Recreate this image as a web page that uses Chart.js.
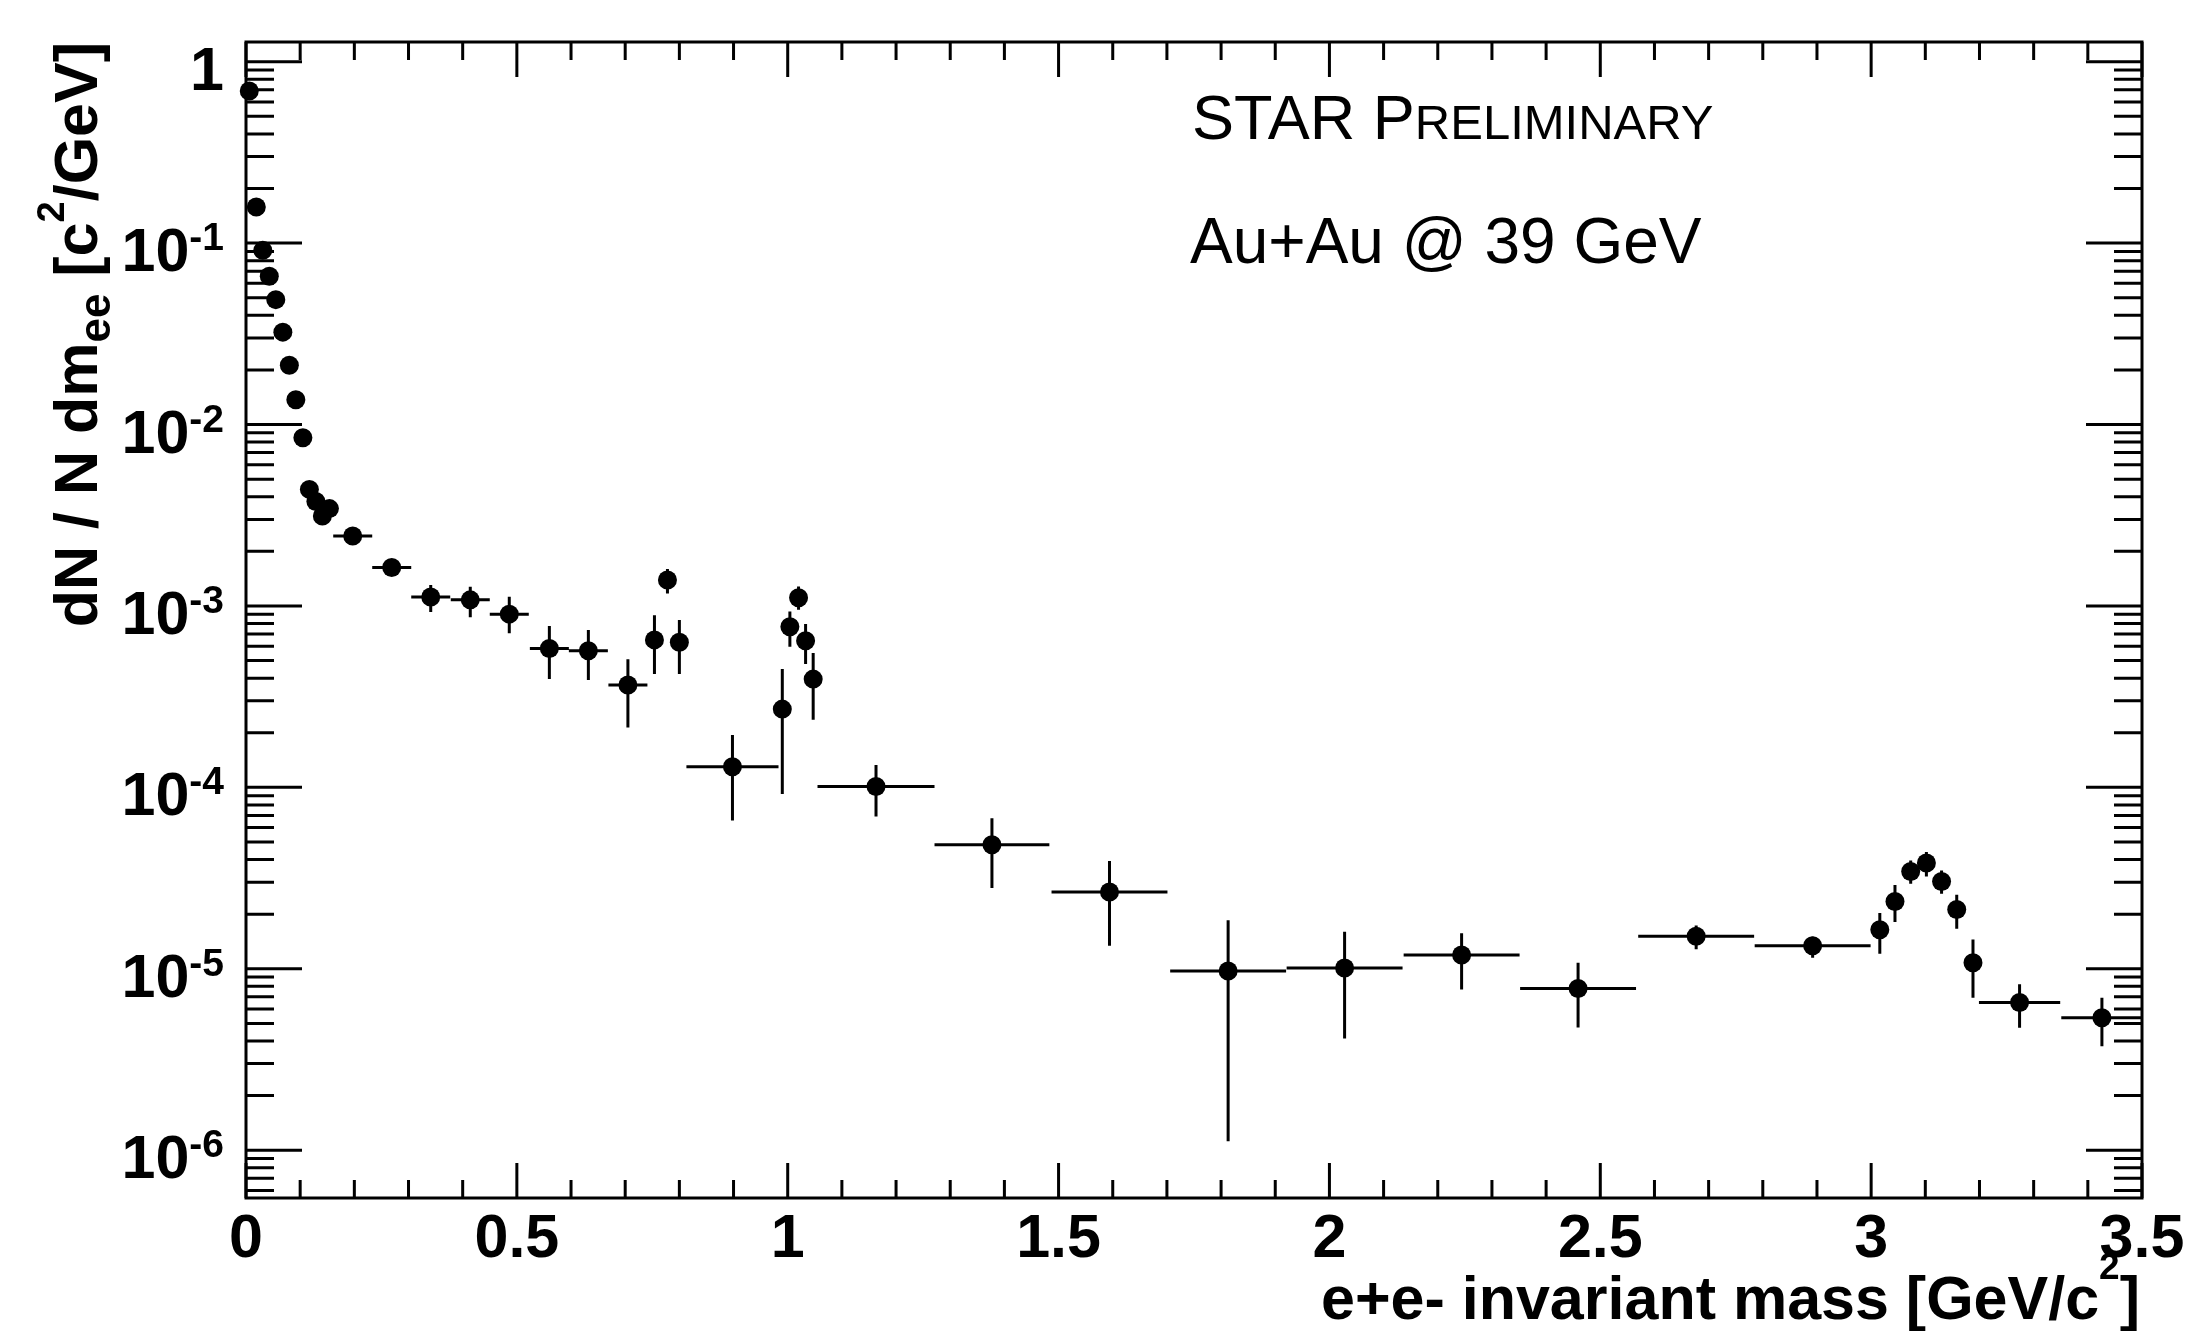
<!DOCTYPE html>
<html>
<head>
<meta charset="utf-8">
<script src="https://cdn.jsdelivr.net/npm/chart.js@4.4.0/dist/chart.umd.min.js"></script>
<style>
  html, body { margin: 0; padding: 0; background: #fff; }
  #wrap { width: 2196px; height: 1331px; }
</style>
</head>
<body>
<div id="wrap"><canvas id="massChart" width="2196" height="1331"></canvas></div>
<script>
// dielectron invariant mass spectrum
const mass = [0.006, 0.019, 0.031, 0.043, 0.055, 0.068, 0.080, 0.092, 0.105, 0.117, 0.129, 0.141, 0.154,
  0.197, 0.269, 0.341, 0.414, 0.486, 0.560, 0.632, 0.705,
  0.754, 0.778, 0.800, 0.898,
  0.990, 1.004, 1.020, 1.033, 1.047, 1.163,
  1.377, 1.594, 1.813, 2.028, 2.244, 2.459, 2.677, 2.892,
  3.016, 3.044, 3.073, 3.102, 3.130, 3.158, 3.188, 3.274, 3.426];

// half bin width
const massHalfWidth = [0.006, 0.006, 0.006, 0.006, 0.006, 0.006, 0.006, 0.006, 0.006, 0.006, 0.006, 0.006, 0.006,
  0.036, 0.036, 0.036, 0.036, 0.036, 0.036, 0.036, 0.036,
  0.010, 0.010, 0.010, 0.085,
  0.007, 0.007, 0.007, 0.007, 0.007, 0.108,
  0.106, 0.107, 0.107, 0.107, 0.107, 0.107, 0.107, 0.107,
  0.014, 0.014, 0.014, 0.014, 0.014, 0.014, 0.014, 0.075, 0.075];

const dNdm = [0.69, 0.158, 0.0912, 0.0656, 0.0488, 0.0323, 0.0212, 0.0137, 0.00846, 0.00439, 0.00376, 0.00313, 0.00344,
  0.00243, 0.00163, 0.00112, 0.00108, 0.000901, 0.000583, 0.000566, 0.000367,
  0.000650, 0.00139, 0.000630, 0.000130,
  0.000270, 0.000767, 0.00111, 0.000643, 0.000395, 0.000101,
  4.83e-5, 2.65e-5, 9.73e-6, 1.01e-5, 1.19e-5, 7.78e-6, 1.51e-5, 1.34e-5,
  1.64e-5, 2.35e-5, 3.44e-5, 3.83e-5, 3.03e-5, 2.12e-5, 1.08e-5, 6.52e-6, 5.37e-6];

// error bar ends (null = hidden under the marker)
const dNdmLow = [null, null, null, null, null, null, null, null, null, null, null, null, null,
  0.00233, 0.00157, 0.000927, 0.000865, 0.000706, 0.000395, 0.000391, 0.000214,
  0.000422, 0.001172, 0.000422, 0.0000656,
  0.0000920, 0.000596, 0.000953, 0.000479, 0.000236, 0.000069,
  2.79e-5, 1.34e-5, 1.12e-6, 4.13e-6, 7.69e-6, 4.74e-6, 1.28e-5, 1.15e-5,
  1.21e-5, 1.81e-5, 2.94e-5, 3.23e-5, 2.59e-5, 1.66e-5, 6.92e-6, 4.73e-6, 3.74e-6];

const dNdmHigh = [null, null, null, null, null, null, null, null, null, null, null, null, null,
  0.00253, 0.00169, 0.001306, 0.001274, 0.001122, 0.000776, 0.000736, 0.000509,
  0.000889, 0.001596, 0.000836, 0.0001945,
  0.000449, 0.000933, 0.00128, 0.000794, 0.00055, 0.000133,
  6.76e-5, 3.93e-5, 1.85e-5, 1.60e-5, 1.57e-5, 1.08e-5, 1.73e-5, 1.50e-5,
  2.03e-5, 2.90e-5, 3.95e-5, 4.40e-5, 3.48e-5, 2.56e-5, 1.45e-5, 8.22e-6, 6.93e-6];

// tick labels
const xTickValues = [0, 0.5, 1, 1.5, 2, 2.5, 3, 3.5];
const xTickLabels = ['0', '0.5', '1', '1.5', '2', '2.5', '3', '3.5'];
const yTickValues = [1, 1e-1, 1e-2, 1e-3, 1e-4, 1e-5, 1e-6];
const yTickBase = ['1', '10', '10', '10', '10', '10', '10'];
const yTickExp = ['', '-1', '-2', '-3', '-4', '-5', '-6'];

const FONT = '"Liberation Sans", Arial, Helvetica, sans-serif';

// draw a run of text pieces (for super/subscripts) along one baseline
function richText(ctx, parts, x, y, align) {
  let total = 0;
  parts.forEach(p => {
    ctx.font = (p.weight || 'bold') + ' ' + p.size + 'px ' + FONT;
    p.w = ctx.measureText(p.t).width;
    total += p.w;
  });
  let cx = x;
  if (align === 'right') cx = x - total;
  if (align === 'center') cx = x - total / 2;
  parts.forEach(p => {
    ctx.font = (p.weight || 'bold') + ' ' + p.size + 'px ' + FONT;
    ctx.fillText(p.t, cx, y + (p.dy || 0));
    cx += p.w;
  });
}

const rootStyle = {
  id: 'rootStyle',
  beforeDatasetsDraw(chart) {
    const { ctx, scales: { x, y } } = chart;
    ctx.save();
    ctx.strokeStyle = '#000';
    ctx.lineWidth = 3;
    ctx.beginPath();
    for (let i = 0; i < mass.length; i++) {
      const px = x.getPixelForValue(mass[i]);
      const py = y.getPixelForValue(dNdm[i]);
      ctx.moveTo(x.getPixelForValue(mass[i] - massHalfWidth[i]), py);
      ctx.lineTo(Math.min(x.getPixelForValue(mass[i] + massHalfWidth[i]), x.right), py);
      if (dNdmLow[i] !== null) {
        ctx.moveTo(px, y.getPixelForValue(dNdmHigh[i]));
        ctx.lineTo(px, y.getPixelForValue(dNdmLow[i]));
      }
    }
    ctx.stroke();
    ctx.restore();
  },
  afterDraw(chart) {
    const { ctx, chartArea: a, scales: { x, y } } = chart;
    ctx.save();
    ctx.strokeStyle = '#000';
    ctx.fillStyle = '#000';
    ctx.lineWidth = 3;
    ctx.strokeRect(a.left, a.top, a.right - a.left, a.bottom - a.top);

    // x ticks, bottom and top
    ctx.beginPath();
    for (let k = 0; k <= 35; k++) {
      const v = k / 10;
      const px = x.getPixelForValue(v);
      const len = k % 5 === 0 ? 35 : 18;
      ctx.moveTo(px, a.bottom); ctx.lineTo(px, a.bottom - len);
      ctx.moveTo(px, a.top); ctx.lineTo(px, a.top + len);
    }
    // y ticks, left and right
    for (let e = -7; e <= 0; e++) {
      for (let m = 1; m <= 9; m++) {
        const v = m * Math.pow(10, e);
        if (v < y.min || v > y.max) continue;
        const py = y.getPixelForValue(v);
        const len = m === 1 ? 56 : 28;
        ctx.moveTo(a.left, py); ctx.lineTo(a.left + len, py);
        ctx.moveTo(a.right, py); ctx.lineTo(a.right - len, py);
      }
    }
    ctx.stroke();

    // tick labels
    ctx.textBaseline = 'alphabetic';
    xTickValues.forEach((v, i) => {
      richText(ctx, [{ t: xTickLabels[i], size: 61 }], x.getPixelForValue(v), 1257, 'center');
    });
    yTickValues.forEach((v, i) => {
      const py = y.getPixelForValue(v);
      const parts = [{ t: yTickBase[i], size: 61 }];
      if (yTickExp[i]) parts.push({ t: yTickExp[i], size: 39, dy: -21 });
      richText(ctx, parts, 224, py + 28, 'right');
    });

    // axis titles
    richText(ctx, [
      { t: 'e+e- invariant mass [GeV/c', size: 61 },
      { t: '2', size: 37, dy: -40 },
      { t: ']', size: 61 }
    ], 2140, 1319, 'right');

    ctx.save();
    ctx.translate(97, 42);
    ctx.rotate(-Math.PI / 2);
    richText(ctx, [
      { t: 'dN / N dm', size: 61 },
      { t: 'ee', size: 44, dy: 13 },
      { t: ' [c', size: 61 },
      { t: '2', size: 38, dy: -33 },
      { t: '/GeV]', size: 61 }
    ], 0, 0, 'right');
    ctx.restore();

    // annotations
    richText(ctx, [
      { t: 'STAR P', size: 63, weight: 'normal' },
      { t: 'RELIMINARY', size: 49, weight: 'normal' }
    ], 1192, 139, 'left');
    richText(ctx, [{ t: 'Au+Au @ 39 GeV', size: 64, weight: 'normal' }], 1190, 263, 'left');
    ctx.restore();
  }
};

const ctx = document.getElementById('massChart').getContext('2d');
const massChart = new Chart(ctx, {
  type: 'scatter',
  data: {
    datasets: [{
      label: 'Au+Au 39 GeV',
      data: mass.map((m, i) => ({ x: m, y: dNdm[i] })),
      backgroundColor: '#000',
      borderColor: '#000',
      borderWidth: 0,
      pointRadius: 9.5,
      pointHoverRadius: 9.5,
      clip: false
    }]
  },
  options: {
    responsive: false,
    animation: false,
    devicePixelRatio: 1,
    events: [],
    layout: { padding: { left: 246, right: 54, top: 42, bottom: 133 } },
    plugins: { legend: { display: false }, tooltip: { enabled: false } },
    scales: {
      x: { type: 'linear', min: 0, max: 3.5, display: false },
      y: { type: 'logarithmic', min: 5.45e-7, max: 1.284, display: false }
    }
  },
  plugins: [rootStyle]
});
</script>
</body>
</html>
